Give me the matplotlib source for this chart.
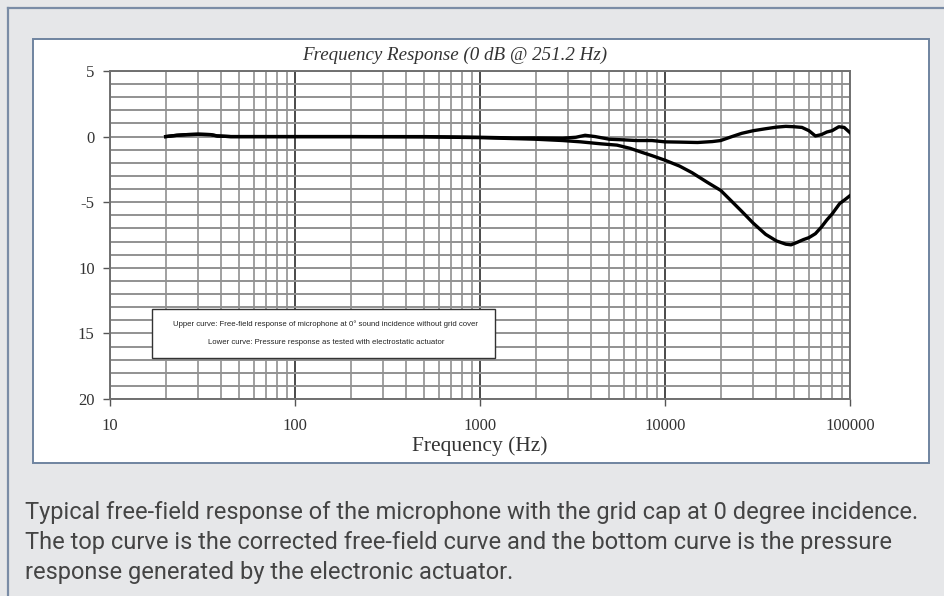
import matplotlib
matplotlib.use("Agg")
import matplotlib.pyplot as plt
from matplotlib.patches import Rectangle
from matplotlib.lines import Line2D
import numpy as np

# ---------------- data ----------------
freq_upper = [20, 23, 26, 30, 35, 38, 45, 60, 100, 200, 500, 1000, 1500, 2000, 2800, 3300,
              3700, 4200, 5000, 6000, 7000, 8500, 10000, 12000, 15000, 18000, 20000, 23000,
              26000, 30000, 35000, 40000, 45000, 50000, 55000, 60000, 65000, 70000, 75000,
              80000, 87000, 93000, 100000]
upper_db = [0.0, 0.1, 0.15, 0.18, 0.15, 0.05, 0.0, 0.0, 0.0, 0.0, 0.0, -0.05, -0.1, -0.1,
            -0.12, -0.05, 0.1, 0.0, -0.2, -0.25, -0.3, -0.3, -0.4, -0.42, -0.45, -0.38, -0.3,
            0.0, 0.25, 0.45, 0.6, 0.72, 0.78, 0.75, 0.7, 0.45, 0.05, 0.15, 0.35, 0.45, 0.75,
            0.7, 0.3]

freq_lower = [20, 23, 26, 30, 35, 38, 45, 60, 100, 200, 500, 1000, 1500, 2000, 2800, 3500,
              4500, 5500, 6500, 7500, 8500, 10000, 12000, 14000, 17000, 20000, 23000, 26000,
              30000, 35000, 40000, 45000, 48000, 52000, 56000, 60000, 65000, 70000, 75000,
              80000, 88000, 94000, 100000]
lower_db = [0.0, 0.1, 0.15, 0.18, 0.15, 0.05, 0.0, 0.0, 0.0, 0.0, -0.02, -0.08, -0.15, -0.2,
            -0.3, -0.4, -0.55, -0.65, -0.9, -1.2, -1.45, -1.8, -2.25, -2.75, -3.5, -4.1,
            -4.95, -5.7, -6.6, -7.45, -7.95, -8.2, -8.25, -8.05, -7.85, -7.7, -7.4, -6.9,
            -6.35, -5.9, -5.1, -4.8, -4.5]

y_ticks = [5, 0, -5, -10, -15, -20]
y_tick_labels = ["5", "0", "-5", "10", "15", "20"]
x_ticks = [10, 100, 1000, 10000, 100000]
x_tick_labels = ["10", "100", "1000", "10000", "100000"]

title = "Frequency Response (0 dB @ 251.2 Hz)"
xlabel = "Frequency (Hz)"
note_lines = ["Upper curve: Free-field response of microphone at 0\u00b0 sound incidence without grid cover",
              "Lower curve: Pressure response as tested with electrostatic actuator"]
caption_lines = ["Typical free-field response of the microphone with the grid cap at 0 degree incidence.",
                 "The top curve is the corrected free-field curve and the bottom curve is the pressure",
                 "response generated by the electronic actuator."]

# ---------------- figure ----------------
W, H = 945, 596
fig = plt.figure(figsize=(W / 100, H / 100), dpi=100)
fig.patch.set_facecolor("#e6e7e9")

def fx(px):
    return px / W

def fy(py):
    return 1 - py / H

frame_col = "#7a8ca6"
fig.add_artist(Line2D([fx(8), fx(8)], [fy(8), 0], transform=fig.transFigure, color=frame_col,
                      lw=1.6, zorder=-20))
fig.add_artist(Line2D([fx(8), 1], [fy(8), fy(8)], transform=fig.transFigure, color=frame_col,
                      lw=1.6, zorder=-20))
fig.add_artist(Rectangle((fx(33), fy(463)), fx(929) - fx(33), fy(39) - fy(463),
                         transform=fig.transFigure, facecolor="white", edgecolor="#6f84a0",
                         lw=1.4, zorder=-10))

ax = fig.add_axes([fx(110), fy(399), fx(850) - fx(110), fy(71) - fy(399)])
ax.set_xscale("log")
ax.set_xlim(10, 100000)
ax.set_ylim(-20, 5)
ax.patch.set_alpha(0)

# grid
ax.set_yticks(np.arange(-20, 6, 1), minor=True)
ax.grid(True, which="minor", axis="y", color="#929292", lw=1.4)
ax.grid(True, which="major", axis="y", color="#929292", lw=1.4)
ax.xaxis.set_minor_locator(matplotlib.ticker.LogLocator(base=10, subs=np.arange(2, 10), numticks=20))
ax.grid(True, which="minor", axis="x", color="#a0a0a0", lw=1.4)
ax.grid(True, which="major", axis="x", color="#4a4a4a", lw=1.4)
ax.set_axisbelow(True)

ax.plot(freq_upper, upper_db, color="black", lw=2.4, solid_joinstyle="round", zorder=3)
ax.plot(freq_lower, lower_db, color="black", lw=2.4, solid_joinstyle="round", zorder=3)

serif = ["Liberation Serif", "DejaVu Serif"]
ax.set_yticks(y_ticks)
ax.set_yticklabels(y_tick_labels, family=serif, fontsize=12, color="#333333")
ax.set_xticks(x_ticks)
ax.set_xticklabels(x_tick_labels, family=serif, fontsize=12, color="#333333")
ax.tick_params(axis="both", which="major", length=5, width=1, color="#555555")
ax.tick_params(axis="y", which="major", pad=6)
ax.tick_params(axis="x", which="major", pad=9)
ax.tick_params(axis="both", which="minor", length=0)
for s in ax.spines.values():
    s.set_color("#707070")
    s.set_linewidth(1.4)

fig.text(fx(455), fy(55), title, family=serif, style="italic", fontsize=13.7,
         color="#333333", ha="center", va="center")
fig.text(fx(480), fy(446), xlabel, family=serif, fontsize=15.5, color="#333333",
         ha="center", va="center")

# note box
bx0, bx1 = (152 - 110) / 740, (495 - 110) / 740
by0, by1 = (399 - 358) / 328, (399 - 309) / 328
ax.add_patch(Rectangle((bx0, by0), bx1 - bx0, by1 - by0, transform=ax.transAxes,
                       facecolor="white", edgecolor="#333333", lw=1.0, zorder=4))
sans = ["Liberation Sans", "DejaVu Sans"]
ax.text((326 - 110) / 740, (399 - 324) / 328, note_lines[0], transform=ax.transAxes,
        family=sans, fontsize=5.55, ha="center", va="center", color="#222222", zorder=5)
ax.text((326 - 110) / 740, (399 - 342) / 328, note_lines[1], transform=ax.transAxes,
        family=sans, fontsize=5.55, ha="center", va="center", color="#222222", zorder=5)

cap_font = ["Roboto", "DejaVu Sans"]
for i, line in enumerate(caption_lines):
    fig.text(fx(25), fy(512 + 30 * i), line, family=cap_font, fontsize=17, color="#444444",
             ha="left", va="center")

fig.savefig("out.png", dpi=100, facecolor=fig.get_facecolor())
